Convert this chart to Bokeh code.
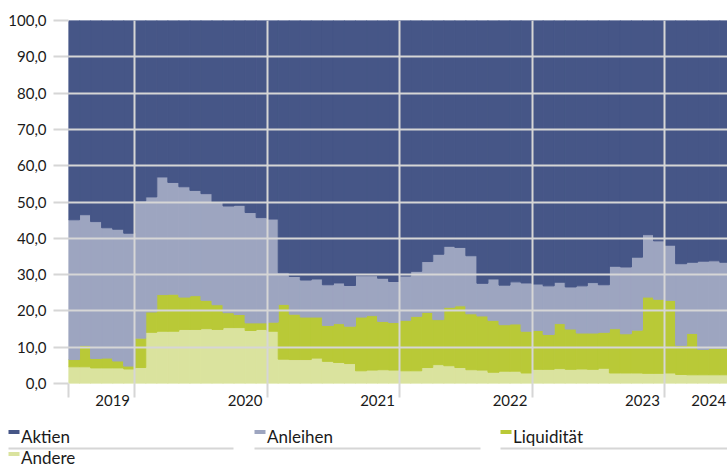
import pandas as pd
from bokeh.plotting import figure
from bokeh.models import ColumnDataSource, FixedTicker, Range1d
from bokeh.core.properties import value
from bokeh.embed import file_html
from bokeh.resources import INLINE

# ---- data (shares in %, monthly) ----
months = list(pd.date_range("2019-07-01", periods=60, freq="MS").strftime("%Y-%m"))

andere = [4.6, 4.6, 4.3, 4.3, 4.3, 4.0, 4.4, 14.1, 14.4, 14.4, 14.9, 14.9, 15.1, 14.9, 15.4,
          15.4, 14.6, 14.9, 14.4, 6.7, 6.6, 6.6, 7.0, 6.1, 5.8, 5.5, 3.5, 3.7, 3.8, 3.7,
          3.5, 3.5, 4.4, 5.2, 4.9, 4.4, 3.8, 3.7, 3.1, 3.4, 3.4, 2.9, 3.9, 3.9, 4.1,
          3.9, 4.0, 3.9, 4.2, 2.9, 2.9, 2.9, 2.8, 2.8, 2.9, 2.5, 2.4, 2.4, 2.4, 2.4]

liquiditaet = [2.0, 5.9, 2.6, 2.7, 1.9, 0.8, 8.1, 5.6, 10.1, 10.2, 8.9, 9.3, 7.8, 6.8, 4.1,
               3.6, 2.1, 1.8, 2.5, 15.1, 12.5, 11.7, 11.3, 9.9, 10.7, 10.3, 14.8, 15.0, 13.3, 13.1,
               13.9, 15.0, 15.2, 12.4, 16.1, 17.0, 15.4, 14.9, 14.3, 12.8, 13.0, 11.5, 10.7, 9.6, 12.4,
               11.1, 9.9, 10.0, 9.9, 12.2, 10.8, 11.8, 21.0, 20.4, 20.0, 8.0, 11.4, 7.0, 7.3, 7.3]

anleihen = [38.5, 36.0, 37.7, 35.9, 36.3, 36.6, 37.8, 31.7, 32.4, 30.8, 30.4, 29.0, 29.4, 28.2, 29.4,
            30.1, 30.4, 29.0, 28.4, 8.7, 10.4, 10.2, 10.5, 11.2, 11.2, 11.2, 11.4, 11.0, 11.9, 11.3,
            12.2, 12.4, 14.0, 18.0, 16.8, 16.1, 16.0, 9.0, 11.4, 10.9, 11.6, 13.3, 12.8, 13.4, 11.4,
            11.6, 13.0, 13.9, 13.1, 17.2, 18.4, 20.1, 17.2, 16.1, 15.2, 22.5, 19.6, 24.3, 24.1, 23.7]

aktien = [54.9, 53.5, 55.4, 57.1, 57.5, 58.6, 49.7, 48.6, 43.1, 44.6, 45.8, 46.8, 47.7, 50.1, 51.1,
          50.9, 52.9, 54.3, 54.7, 69.5, 70.5, 71.5, 71.2, 72.8, 72.3, 73.0, 70.3, 70.3, 71.0, 71.9,
          70.4, 69.1, 66.4, 64.4, 62.2, 62.5, 64.8, 72.4, 71.2, 72.9, 72.0, 72.3, 72.6, 73.1, 72.1,
          73.4, 73.1, 72.2, 72.8, 67.7, 67.9, 65.2, 59.0, 60.7, 61.9, 67.0, 66.6, 66.3, 66.2, 66.6]

series_names = ["Aktien", "Anleihen", "Liquidität", "Andere"]
series_colors = ["#465687", "#9da5c0", "#b9c937", "#dae39e"]

y_ticks = [0, 10, 20, 30, 40, 50, 60, 70, 80, 90, 100]
year_labels = ["2019", "2020", "2021", "2022", "2023", "2024"]
year_label_pos = [4, 16, 28, 40, 52, 58]      # month index of each year label
year_bounds = [0, 6, 18, 30, 42, 54]          # month index of year gridlines

GRID = "#d6d6d6"
FONT = "Lato"
TEXT = "#1a1a1a"

# ---- main chart ----
x_center = [i + 0.5 for i in range(len(months))]
source = ColumnDataSource(dict(x=x_center, month=months, andere=andere, liq=liquiditaet,
                               anleihen=anleihen, aktien=aktien))

p = figure(frame_width=659, frame_height=363,
           x_range=Range1d(0, 59.7), y_range=Range1d(0, 100),
           output_backend="svg", toolbar_location=None,
           min_border_left=68, min_border_top=20, min_border_right=0, min_border_bottom=35,
           outline_line_color=None, background_fill_color="white")

stack_cols = ["andere", "liq", "anleihen", "aktien"]
stack_colors = [series_colors[3], series_colors[2], series_colors[1], series_colors[0]]
p.vbar_stack(stack_cols, x="x", width=1.0, source=source,
             fill_color=stack_colors, line_color=stack_colors, line_width=1.0)

# y axis
p.yaxis.ticker = FixedTicker(ticks=y_ticks)
p.yaxis.major_label_overrides = {t: f"{t:.1f}".replace(".", ",") for t in y_ticks}
p.yaxis.major_label_text_font = FONT
p.yaxis.major_label_text_font_size = "15px"
p.yaxis.major_label_text_color = TEXT
p.yaxis.major_tick_out = 15
p.yaxis.major_tick_in = 0
p.yaxis.major_tick_line_color = GRID
p.yaxis.major_tick_line_width = 2
p.yaxis.minor_tick_line_color = None
p.yaxis.axis_line_color = None
p.yaxis.major_label_standoff = 7

# x axis
p.xaxis.ticker = FixedTicker(ticks=year_label_pos, minor_ticks=year_bounds)
p.xaxis.major_label_overrides = dict(zip(year_label_pos, year_labels))
p.xaxis.major_label_text_font = FONT
p.xaxis.major_label_text_font_size = "15px"
p.xaxis.major_label_text_color = TEXT
p.xaxis.major_tick_line_color = None
p.xaxis.major_tick_out = 0
p.xaxis.major_tick_in = 0
p.xaxis.minor_tick_out = 14
p.xaxis.minor_tick_in = 0
p.xaxis.minor_tick_line_color = GRID
p.xaxis.minor_tick_line_width = 2
p.xaxis.axis_line_color = None
p.xaxis.major_label_standoff = -3

# grids drawn over the areas
p.xgrid.grid_line_color = None
p.xgrid.minor_grid_line_color = GRID
p.xgrid.minor_grid_line_width = 2
p.ygrid.grid_line_color = GRID
p.ygrid.grid_line_width = 2
p.xgrid.level = "overlay"
p.ygrid.level = "overlay"

# ---- legend strip (3 columns, underlined) ----
LEG_H = 50
col_left = [8, 254, 500, 8]
row_text_y = [18, 39]
row_mark_y = [13.5, 35.5]
item_row = [0, 0, 0, 1]
leg_src = ColumnDataSource(dict(
    name=series_names, color=series_colors,
    mx=[c + 5.5 for c in col_left],
    my=[row_mark_y[r] for r in item_row],
    tx=[c + 12.5 for c in col_left],
    ty=[row_text_y[r] for r in item_row],
))

lg = figure(width=727, height=LEG_H, x_range=Range1d(0, 727), y_range=Range1d(LEG_H, 0),
            output_backend="svg", toolbar_location=None, x_axis_type=None, y_axis_type=None,
            min_border_left=0, min_border_right=0, min_border_top=0, min_border_bottom=0,
            outline_line_color=None, background_fill_color="white")
lg.xgrid.visible = False
lg.ygrid.visible = False
lg.segment(x0=[8, 254, 500], x1=[233, 480, 727], y0=[30, 30, 30], y1=[30, 30, 30],
           line_color=GRID, line_width=2)
lg.rect(x="mx", y="my", width=11, height=4, fill_color="color", line_color=None, source=leg_src)
lg.text(x="tx", y="ty", text="name", source=leg_src, text_font=value(FONT),
        text_font_size="17px", text_color=TEXT, text_baseline="alphabetic", text_align="left")

open("out.html", "w").write(file_html([p, lg], INLINE))
